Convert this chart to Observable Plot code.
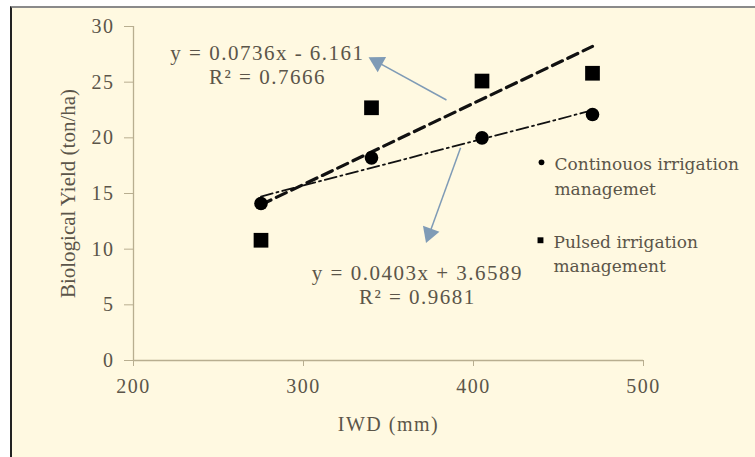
<!DOCTYPE html>
<html><head><meta charset="utf-8">
<script src="https://cdn.jsdelivr.net/npm/d3@7"></script>
<script src="https://cdn.jsdelivr.net/npm/@observablehq/plot@0.6"></script>
<style>
body{margin:0;background:#fff;}
#wrap{position:relative;width:755px;height:457px;overflow:hidden;}
#bg{position:absolute;left:10px;top:6px;width:743px;height:460px;background:#FFF9E1;border-left:2px solid #222;border-top:2px solid #8a8a8a;}
#chart{position:absolute;left:0;top:0;}
</style></head>
<body><div id="wrap"><div id="bg"></div><div id="chart"></div></div>
<script>
// ---- data ----
const iwd = [275, 340, 405, 470];
const continuousYield = [14.1, 18.2, 20.0, 22.1];
const pulsedYield = [10.8, 22.7, 25.1, 25.8];
const seriesNames = ["Continouos irrigation\nmanagemet", "Pulsed irrigation\nmanagement"];
const xTicks = [200, 300, 400, 500];
const yTicks = [0, 5, 10, 15, 20, 25, 30];
const xLabel = "IWD (mm)";
const yLabel = "Biological Yield (ton/ha)";
const equations = ["y = 0.0736x - 6.161\nR² = 0.7666", "y = 0.0403x + 3.6589\nR² = 0.9681"];
// annotation anchors (data units)
const eqX = [278.8, 367];
const eqY = [26.57, 6.87];
const arrowFromX = [384.1, 392.4];
const arrowFromY = [23.4, 19.1];
const arrowToX = [343.5, 374.1];
const arrowToY = [26.8, 11.4];
const legendX = [440, 439.4];
const legendY = [17.8, 10.8];

const rows = iwd.flatMap((x, i) => [
  {x, y: continuousYield[i], s: seriesNames[0]},
  {x, y: pulsedYield[i], s: seriesNames[1]}
]);
const cont = rows.filter(d => d.s === seriesNames[0]);
const puls = rows.filter(d => d.s === seriesNames[1]);

const axisCol = "#b8ae90", textCol = "#5b5549", arrowCol = "#7f9bb6";
const idx = [0, 1];

const base = {
  width: 755, height: 457,
  marginLeft: 133, marginRight: 112, marginTop: 26, marginBottom: 97,
  x: {domain: [200, 500]},
  y: {domain: [0, 30]},
  style: {background: "transparent", fontFamily: "Liberation Serif, serif", fontSize: "20px", color: textCol}
};

function build(angles) {
  return Plot.plot({
    ...base,
    marks: [
      Plot.ruleX([200], {y1: 0, y2: 30, stroke: axisCol, strokeWidth: 1.3}),
      Plot.ruleY([0], {x1: 200, x2: 500, stroke: axisCol, strokeWidth: 1.3}),
      Plot.axisY(yTicks, {tickSize: 9, tickPadding: 10, stroke: axisCol, fill: textCol, fontSize: 20, label: null}),
      Plot.axisX(xTicks, {tickSize: 6, tickPadding: 12, stroke: axisCol, fill: textCol, fontSize: 20, label: null}),
      Plot.text([yLabel], {frameAnchor: "left", dx: -65, rotate: -90, textAnchor: "middle", fill: textCol, fontSize: 21}),
      Plot.text([xLabel], {frameAnchor: "bottom", dy: 70, fill: textCol, fontSize: 20}),
      Plot.linearRegressionY(puls, {x: "x", y: "y", ci: 0, stroke: "#111", strokeWidth: 3.2, strokeDasharray: "11,6"}),
      Plot.linearRegressionY(cont, {x: "x", y: "y", ci: 0, stroke: "#111", strokeWidth: 1.8, strokeDasharray: "12,4,2,4"}),
      Plot.dot(cont, {x: "x", y: "y", symbol: "circle", r: 6.8, fill: "#000"}),
      Plot.dot(puls, {x: "x", y: "y", symbol: "square", r: 8.3, fill: "#000"}),
      Plot.link(idx, {x1: i => arrowFromX[i], y1: i => arrowFromY[i], x2: i => arrowToX[i], y2: i => arrowToY[i], stroke: arrowCol, strokeWidth: 1.5}),
      ...(angles ? [Plot.dot(idx, {x: i => arrowToX[i], y: i => arrowToY[i], symbol: "triangle", r: 6.5, fill: arrowCol, rotate: i => angles[i]})] : []),
      Plot.text(idx, {x: i => eqX[i], y: i => eqY[i], text: i => equations[i], fill: textCol, fontSize: 21, lineHeight: 1.15, textAnchor: "middle", lineAnchor: "middle"}),
      Plot.dot(idx, {x: i => legendX[i], y: i => legendY[i], symbol: i => i === 0 ? "circle" : "square", r: i => i === 0 ? 4.5 : 6, fill: "#000"}),
      Plot.text(idx, {x: i => legendX[i], y: i => legendY[i], text: i => seriesNames[i], dx: 13, dy: 12, textAnchor: "start", lineAnchor: "middle", lineHeight: 1.45, fill: textCol, fontSize: 17, fontFamily: "DejaVu Serif, serif"})
    ]
  });
}

const first = build(null);
const sx = first.scale("x"), sy = first.scale("y");
const angles = idx.map(i => {
  const dx = sx.apply(arrowToX[i]) - sx.apply(arrowFromX[i]);
  const dy = sy.apply(arrowToY[i]) - sy.apply(arrowFromY[i]);
  return Math.atan2(dx, -dy) * 180 / Math.PI;
});
const svg = build(angles);
// the reference's horizontal texts are slightly stretched: widen them, except the vertical title and legend
const plain = new Set([yLabel, ...seriesNames.map(s => s.replace("\n", ""))]);
d3.select(svg).selectAll("text")
  .filter(function() { return !plain.has(this.textContent); })
  .style("letter-spacing", "1.5px");
document.getElementById("chart").append(svg);
</script>
</body></html>
